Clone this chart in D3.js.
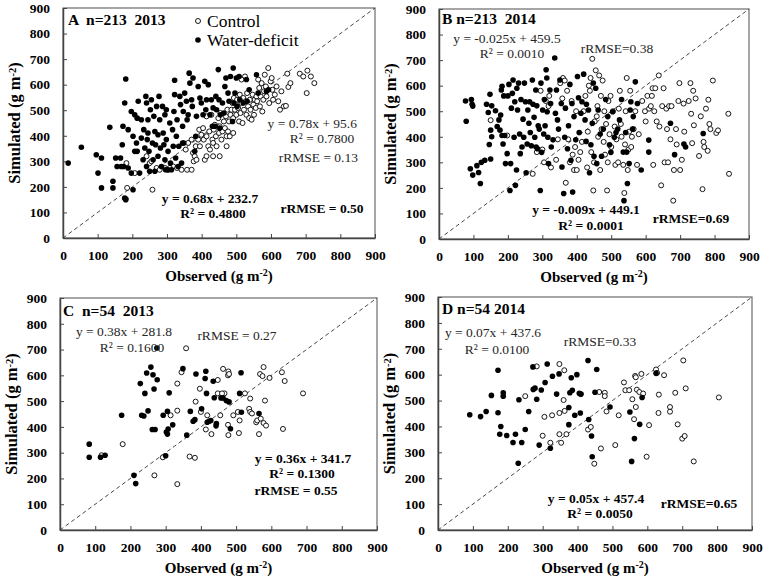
<!DOCTYPE html>
<html><head><meta charset="utf-8">
<script src="https://cdn.jsdelivr.net/npm/d3@7"></script>
<style>body{margin:0;background:#fff}svg{display:block}</style>
</head><body>
<svg id="c" width="764" height="576"></svg>
<script>
const tickValues = [0,100,200,300,400,500,600,700,800,900];
const legendLabels = ["Control","Water-deficit"];
const panelTitles = ["A  n=213  2013","B n=213  2014","C  n=54  2013","D n=54 2014"];

// [observed, simulated]
const controlA = [[183,293],[185,196],[181,153],[258,189],[207,254],[241,320],[250,293],[270,274],[279,267],[294,274],[303,267],[318,280],[329,274],[342,267],[358,267],[371,267],[354,346],[361,372],[371,385],[375,333],[380,320],[377,300],[383,359],[390,385],[393,424],[399,404],[404,430],[406,385],[409,306],[414,398],[419,359],[422,417],[424,346],[428,482],[431,385],[433,372],[435,424],[438,443],[441,398],[443,359],[448,469],[450,411],[452,437],[454,489],[457,385],[460,417],[464,456],[467,430],[470,476],[472,398],[474,502],[476,417],[479,456],[481,398],[483,482],[486,502],[489,528],[491,469],[493,548],[496,502],[498,528],[500,482],[502,541],[505,509],[508,456],[510,561],[512,489],[515,528],[518,450],[520,548],[522,502],[525,632],[527,535],[529,482],[531,567],[534,515],[537,469],[539,541],[541,502],[544,463],[547,561],[549,522],[551,482],[553,541],[556,509],[558,554],[560,535],[563,620],[566,587],[568,515],[570,554],[573,606],[575,495],[578,541],[580,574],[582,639],[585,593],[587,554],[592,665],[595,528],[599,613],[602,626],[604,580],[606,541],[611,561],[616,593],[621,535],[626,502],[630,574],[637,515],[643,517],[647,643],[650,591],[656,606],[683,643],[693,632],[705,655],[715,632],[725,606],[703,567],[515,620],[255,300],[308,274],[385,306],[395,359],[414,320],[452,320],[472,359],[491,411],[414,476],[433,320]];
const deficitA = [[15,293],[53,355],[96,326],[101,254],[111,313],[111,196],[135,433],[144,222],[144,196],[152,313],[156,280],[166,313],[168,280],[171,365],[173,437],[178,528],[181,622],[181,150],[178,156],[188,424],[175,280],[188,274],[197,254],[202,189],[197,495],[207,482],[202,398],[207,339],[212,372],[214,469],[214,339],[217,535],[221,254],[226,463],[226,391],[231,306],[233,424],[236,352],[239,554],[241,528],[241,280],[243,385],[245,463],[245,411],[248,339],[250,261],[252,502],[255,541],[258,372],[260,306],[262,476],[265,417],[265,261],[267,365],[270,515],[274,404],[274,320],[277,554],[279,463],[281,352],[284,280],[287,515],[289,411],[291,365],[294,482],[294,306],[296,267],[298,502],[298,385],[303,339],[303,267],[308,450],[310,293],[313,267],[316,424],[318,359],[320,495],[322,561],[322,617],[325,313],[327,398],[329,463],[332,280],[334,359],[337,554],[339,522],[342,293],[345,437],[345,372],[347,495],[348,372],[351,567],[356,535],[358,463],[361,482],[364,645],[366,606],[371,541],[373,515],[375,626],[380,339],[383,398],[385,476],[390,593],[395,548],[399,528],[404,482],[409,613],[412,502],[414,541],[419,600],[424,482],[428,541],[431,437],[433,509],[438,437],[441,554],[443,502],[448,659],[450,541],[452,430],[454,482],[460,528],[464,489],[467,593],[470,626],[476,567],[479,535],[483,632],[489,456],[491,665],[493,528],[496,567],[500,626],[502,515],[508,632],[510,541],[520,528],[529,620],[531,535],[537,580],[558,639],[563,567],[587,574],[593,580]];

const controlB = [[150,465],[198,405],[272,255],[284,340],[295,580],[300,350],[305,300],[310,540],[318,520],[320,560],[325,280],[340,310],[345,390],[352,610],[358,550],[360,630],[365,620],[368,220],[372,580],[375,390],[380,300],[385,540],[388,330],[392,270],[395,360],[398,500],[400,270],[405,310],[410,340],[415,380],[420,500],[425,560],[430,280],[432,420],[435,600],[438,580],[440,630],[442,340],[445,705],[448,190],[450,300],[452,460],[455,660],[458,480],[460,520],[462,400],[465,640],[468,270],[470,560],[472,430],[475,620],[478,380],[480,500],[482,330],[485,450],[488,190],[490,300],[492,540],[495,410],[498,560],[500,360],[505,500],[510,440],[512,290],[515,390],[520,300],[522,510],[525,580],[528,450],[530,400],[535,290],[538,180],[540,370],[542,500],[545,630],[548,270],[550,350],[552,420],[555,580],[558,360],[560,400],[565,430],[570,500],[575,290],[580,410],[590,540],[598,500],[600,460],[605,560],[610,510],[615,520],[618,560],[620,590],[622,290],[625,500],[628,590],[632,460],[638,640],[640,440],[645,210],[648,520],[652,590],[655,300],[660,510],[662,430],[665,300],[668,520],[672,390],[675,520],[680,150],[682,270],[688,430],[690,370],[695,540],[698,610],[700,270],[705,310],[710,530],[712,420],[725,540],[730,610],[732,490],[735,375],[738,580],[740,445],[745,550],[755,325],[760,480],[765,195],[768,380],[770,360],[775,510],[780,345],[782,545],[785,450],[788,430],[795,620],[805,415],[810,425],[840,490],[842,255]];
const deficitB = [[77,540],[79,461],[94,546],[96,527],[98,520],[91,275],[98,250],[110,287],[115,260],[123,300],[120,217],[133,308],[138,527],[143,495],[146,370],[148,566],[150,426],[153,400],[153,521],[150,313],[164,502],[169,440],[174,466],[179,485],[177,426],[181,583],[183,598],[183,405],[186,372],[188,560],[191,405],[193,295],[198,334],[200,560],[203,605],[206,190],[208,295],[210,512],[213,570],[215,622],[218,398],[220,537],[222,210],[225,270],[226,590],[228,505],[231,610],[234,411],[236,334],[238,546],[241,360],[244,469],[246,398],[248,610],[251,537],[253,259],[256,372],[258,505],[261,453],[263,537],[265,417],[268,365],[271,622],[273,527],[276,476],[278,398],[281,583],[282,360],[284,521],[286,353],[288,443],[291,430],[294,190],[296,610],[298,339],[301,505],[304,411],[306,546],[308,443],[311,662],[313,630],[314,498],[316,398],[318,295],[322,583],[324,530],[326,360],[331,388],[336,708],[338,492],[341,583],[344,466],[347,430],[351,622],[355,530],[357,282],[362,178],[365,398],[367,512],[373,353],[376,443],[380,605],[383,308],[386,530],[388,184],[392,479],[397,388],[402,636],[405,553],[407,417],[412,492],[415,537],[420,645],[424,466],[427,382],[428,527],[434,505],[437,259],[441,369],[445,453],[448,610],[450,324],[455,590],[458,295],[462,505],[468,411],[472,324],[477,430],[484,546],[490,479],[495,369],[499,339],[504,498],[509,398],[514,417],[519,430],[524,466],[530,546],[535,340],[537,150],[542,417],[545,340],[547,217],[552,295],[555,505],[557,537],[562,430],[564,479],[570,615],[576,530],[587,270],[609,340],[609,387],[672,453],[684,330],[711,372],[716,360],[767,413]];

const controlC = [[118,290],[178,333],[268,212],[292,282],[314,445],[333,178],[333,568],[333,463],[345,612],[358,705],[368,285],[383,280],[385,498],[397,548],[400,458],[414,390],[418,445],[430,372],[448,582],[448,530],[455,445],[463,625],[467,530],[477,600],[478,615],[477,408],[478,368],[492,445],[505,458],[508,376],[510,425],[525,530],[537,470],[540,510],[540,458],[557,418],[560,425],[565,372],[568,605],[570,432],[575,597],[578,632],[578,415],[582,502],[585,405],[595,590],[630,612],[633,392],[638,578],[690,530],[460,530],[545,452],[480,605]];
const deficitC = [[83,333],[83,282],[115,282],[128,290],[175,445],[210,212],[215,180],[228,568],[232,445],[238,442],[241,530],[246,609],[250,462],[258,632],[264,602],[267,547],[262,390],[270,390],[276,583],[275,706],[293,445],[300,288],[302,380],[305,372],[305,460],[307,392],[310,532],[320,408],[349,626],[360,368],[370,460],[378,422],[383,428],[386,605],[402,470],[412,588],[414,616],[416,530],[418,418],[423,422],[428,425],[435,577],[438,513],[443,404],[444,413],[457,512],[463,512],[472,502],[480,497],[484,393],[510,530],[514,610],[515,457],[565,452]];

const controlD = [[250,517],[283,632],[300,364],[305,437],[322,337],[327,443],[348,641],[348,452],[348,370],[353,337],[360,502],[362,617],[363,460],[368,370],[408,525],[430,388],[438,398],[448,256],[462,533],[467,315],[478,530],[478,517],[483,458],[508,328],[518,443],[533,570],[537,540],[548,540],[557,505],[562,428],[565,595],[567,590],[567,475],[570,542],[577,533],[583,603],[588,527],[598,283],[605,405],[625,620],[628,607],[632,452],[633,523],[648,598],[665,475],[665,457],[680,530],[687,408],[700,353],[703,655],[707,363],[710,547],[733,265],[805,512]];
const deficitD = [[91,445],[122,438],[138,458],[153,520],[172,617],[172,453],[177,370],[180,400],[187,530],[187,517],[197,365],[215,338],[222,370],[230,258],[232,503],[240,338],[250,388],[260,458],[272,630],[273,543],[278,548],[283,505],[290,328],[296,541],[307,570],[313,641],[322,316],[328,594],[340,525],[347,603],[375,473],[375,407],[378,530],[382,588],[385,540],[392,443],[398,600],[405,528],[408,452],[410,525],[430,655],[432,427],[440,363],[442,283],[450,532],[455,620],[493,475],[550,456],[555,265],[563,353],[578,408],[585,512],[625,605]];

const normalNotes = [
  ["y = 0.78x + 95.6","R² = 0.7800","rRMSE = 0.13"],
  ["y = -0.025x + 459.5","R² = 0.0010","rRMSE=0.38"],
  ["y = 0.38x + 281.8","R² = 0.1600","rRMSE = 0.27"],
  ["y = 0.07x + 437.6","R² = 0.0100","rRMSE=0.33"]
];
const boldNotes = [
  ["y = 0.68x + 232.7","R² = 0.4800","rRMSE = 0.50"],
  ["y = -0.009x + 449.1","R² = 0.0001","rRMSE=0.69"],
  ["y = 0.36x + 341.7","R² = 0.1300","rRMSE = 0.55"],
  ["y = 0.05x + 457.4","R² = 0.0050","rRMSE=0.65"]
];

// layout (pixels)
const panels = [
  {x0:63,x1:375,y0:238,y1:8, ctrl:controlA, def:deficitA,
   nPos:[[357,128,"end"],[322,143,"middle"],[358,162,"end"]],
   bPos:[[210,203],[213,218],[322,213]], title:[68,25], legend:true},
  {x0:439,x1:749,y0:239,y1:9, ctrl:controlB, def:deficitB,
   nPos:[[507,43,"middle"],[512,58,"middle"],[617,53,"middle"]],
   bPos:[[586,214],[591,230],[691,223]], title:[442,24]},
  {x0:60,x1:377,y0:530,y1:298, ctrl:controlC, def:deficitC,
   nPos:[[124,336,"middle"],[132,352,"middle"],[237,340,"middle"]],
   bPos:[[303,463],[302,478],[296,495]], title:[63,316]},
  {x0:438,x1:752,y0:530,y1:297, ctrl:controlD, def:deficitD,
   nPos:[[493,337,"middle"],[497,354,"middle"],[600,346,"middle"]],
   bPos:[[596,503],[600,518],[699,508]], title:[442,314]}
];

const svg = d3.select("#c");
const FONT = "'Liberation Serif','Times New Roman',serif";

panels.forEach((p,i)=>{
  const x = d3.scaleLinear().domain([0,900]).range([p.x0,p.x1]);
  const y = d3.scaleLinear().domain([0,900]).range([p.y0,p.y1]);
  const g = svg.append("g");

  g.append("rect").attr("x",p.x0).attr("y",p.y1).attr("width",p.x1-p.x0).attr("height",p.y0-p.y1)
    .attr("fill","none").attr("stroke","#6b6b6b").attr("stroke-width",1.2);

  const xa = g.append("g").attr("transform",`translate(0,${p.y0})`)
    .call(d3.axisBottom(x).tickValues(tickValues).tickSizeInner(-4).tickSizeOuter(0).tickPadding(12));
  const ya = g.append("g").attr("transform",`translate(${p.x0},0)`)
    .call(d3.axisLeft(y).tickValues(tickValues).tickSizeInner(-4).tickSizeOuter(0).tickPadding(13));
  [xa,ya].forEach(a=>{
    a.select(".domain").attr("stroke","#444").attr("stroke-width",1.5);
    a.selectAll(".tick line").attr("stroke","#444").attr("stroke-width",1);
    a.selectAll(".tick text").attr("font-family",FONT).attr("font-weight","bold")
      .attr("font-size",13.5).attr("fill","#000");
  });
  xa.selectAll(".tick text").attr("dy","0.72em");

  g.append("line").attr("x1",x(0)).attr("y1",y(0)).attr("x2",x(900)).attr("y2",y(900))
    .attr("stroke","#333").attr("stroke-width",0.9).attr("stroke-dasharray","4,3");

  g.append("g").selectAll("circle").data(p.ctrl).join("circle")
    .attr("cx",d=>x(d[0])).attr("cy",d=>y(d[1])).attr("r",2.5)
    .attr("fill","#fff").attr("stroke","#000").attr("stroke-width",0.9);
  g.append("g").selectAll("circle").data(p.def).join("circle")
    .attr("cx",d=>x(d[0])).attr("cy",d=>y(d[1])).attr("r",2.8)
    .attr("fill","#000");

  const xt = g.append("text").attr("x",(p.x0+p.x1)/2).attr("y",p.y0+43)
    .attr("text-anchor","middle").attr("font-family",FONT).attr("font-weight","bold").attr("font-size",15);
  xt.append("tspan").text("Observed (g m");
  xt.append("tspan").attr("dy",-5).attr("font-size",10).text("-2");
  xt.append("tspan").attr("dy",5).text(")");
  const yt = g.append("text").attr("transform",`translate(${p.x0-43},${(p.y0+p.y1)/2}) rotate(-90)`)
    .attr("text-anchor","middle").attr("font-family",FONT).attr("font-weight","bold").attr("font-size",16.5);
  yt.append("tspan").text("Simulated (g m");
  yt.append("tspan").attr("dy",-4.5).attr("font-size",10.5).text("-2");
  yt.append("tspan").attr("dy",4.5).text(")");

  g.append("text").attr("x",p.title[0]).attr("y",p.title[1]).attr("font-family",FONT)
    .attr("font-weight","bold").attr("font-size",15.5)
    .style("white-space","pre").text(panelTitles[i]);

  normalNotes[i].forEach((t,k)=>{
    g.append("text").attr("x",p.nPos[k][0]).attr("y",p.nPos[k][1]).attr("text-anchor",p.nPos[k][2])
      .attr("font-family",FONT).attr("font-size",13.5).attr("fill","#262626").text(t);
  });
  boldNotes[i].forEach((t,k)=>{
    g.append("text").attr("x",p.bPos[k][0]).attr("y",p.bPos[k][1]).attr("text-anchor","middle")
      .attr("font-family",FONT).attr("font-weight","bold").attr("font-size",13.5).attr("fill","#000").text(t);
  });

  if(p.legend){
    const lg = g.append("g");
    lg.append("circle").attr("cx",198).attr("cy",21).attr("r",2.5).attr("fill","#fff").attr("stroke","#000").attr("stroke-width",0.9);
    lg.append("circle").attr("cx",198).attr("cy",40).attr("r",2.8).attr("fill","#000");
    lg.append("text").attr("x",207).attr("y",27).attr("font-family",FONT).attr("font-size",17.5).text(legendLabels[0]);
    lg.append("text").attr("x",207).attr("y",46).attr("font-family",FONT).attr("font-size",17.5).text(legendLabels[1]);
  }
});
</script>
</body></html>
